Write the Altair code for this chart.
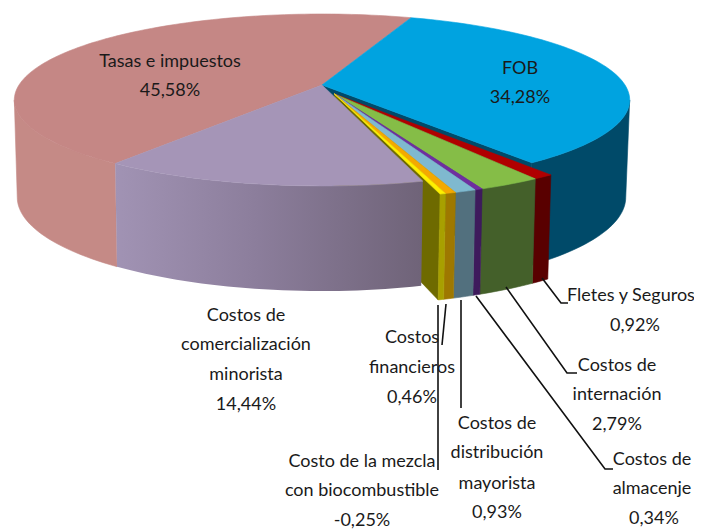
import math
import altair as alt
import pandas as pd

# --- chart values ---------------------------------------------------------
slices = ["FOB", "Fletes y Seguros", "Costos de internación", "Costos de almacenje",
          "Costos de distribución mayorista", "Costos financieros",
          "Costo de la mezcla con biocombustible",
          "Costos de comercialización minorista", "Tasas e impuestos"]
values = [34.28, 0.92, 2.79, 0.34, 0.93, 0.46, -0.25, 14.44, 45.58]
top_colors = ["#00A3E0", "#B00000", "#85BD47", "#6F2F9F", "#7FB9CF", "#F4A900", "#FFF000",
              "#A595B7", "#C58785"]
side_colors = ["#004A69", "#590000", "#44602A", "#3E1A5C", "#52707E", "#9E7800", "#A8A000",
               "#7D6F88", "#C58A86"]
pulled_out = [0, 1, 1, 1, 1, 1, 1, 0, 0]

# --- 3-D pie view -----------------------------------------------------------
START = 20.0
TILT = 0.174
OFFSET = (0.04, -0.105)
TOP = dict(cx=322.0, ax=303.0, py=85.0, qy=-68.56)
BASE = dict(cx=321.5, ax=299.6, py=181.0, qy=-59.4)
VISIBLE = (100.0, 260.0)


def project(X, Y, plane):
    d = 1 + TILT * Y
    return plane["cx"] + plane["ax"] * X / d, (plane["py"] + plane["qy"] * Y) / d


def rim(a0, a1, pull, plane):
    n = max(2, int(abs(a1 - a0) / 1.5) + 2)
    pts = []
    for k in range(n):
        a = math.radians(a0 + (a1 - a0) * k / (n - 1))
        X = math.sin(a) + (OFFSET[0] if pull else 0)
        Y = math.cos(a) + (OFFSET[1] if pull else 0)
        pts.append(project(X, Y, plane))
    return pts


def centre(pull, plane):
    return project(OFFSET[0] if pull else 0, OFFSET[1] if pull else 0, plane)


total = sum(abs(v) for v in values)
angles = []
a = START
for v in values:
    b = a + abs(v) / total * 360
    angles.append((a, b))
    a = b

DOM_X = [8, 694]
DOM_Y = [532, 8]
X = alt.X("x:Q", scale=alt.Scale(domain=DOM_X, nice=False, zero=False), axis=None)
Y = alt.Y("y:Q", scale=alt.Scale(domain=DOM_Y, nice=False, zero=False), axis=None)


def poly(points, fill):
    df = pd.DataFrame({"x": [p[0] for p in points], "y": [p[1] for p in points],
                       "i": range(len(points))})
    stroke = fill if isinstance(fill, str) else "#8A7C98"
    sw = 0.6 if isinstance(fill, str) else 0
    return alt.Chart(df).mark_line(interpolate="linear-closed", fill=fill, stroke=stroke,
                                   strokeWidth=sw, clip=False).encode(
        x=X, y=Y, order="i:Q")


def wedge_top(i):
    a0, b0 = angles[i]
    p = pulled_out[i]
    return poly([centre(p, TOP)] + rim(a0, b0, p, TOP), top_colors[i])


def outer_wall(i, fill=None):
    a0, b0 = max(angles[i][0], VISIBLE[0]), min(angles[i][1], VISIBLE[1])
    p = pulled_out[i]
    return poly(rim(a0, b0, p, TOP) + rim(b0, a0, p, BASE), fill or side_colors[i])


def radial_wall(angle, pull, fill):
    t, b = rim(angle, angle, pull, TOP)[0], rim(angle, angle, pull, BASE)[0]
    return poly([centre(pull, TOP), t, b, centre(pull, BASE)], fill)


lilac_fill = alt.LinearGradient(gradient="linear", x1=0, y1=0, x2=1, y2=0, stops=[
    alt.GradientStop(color="#A193B4", offset=0),
    alt.GradientStop(color="#8C7E9C", offset=0.45),
    alt.GradientStop(color="#6F6378", offset=1)])

layers = [outer_wall(0), outer_wall(8),
          radial_wall(angles[0][1], 0, side_colors[0]),
          radial_wall(angles[6][1], 1, "#6E6A00"),
          outer_wall(7, lilac_fill),
          wedge_top(8), wedge_top(0), wedge_top(7)]
for i in range(1, 7):
    layers += [outer_wall(i), wedge_top(i)]

# --- leader lines and labels (layout only) ----------------------------------
leaders = [
    [(542, 278), (561, 303), (568, 303)],
    [(506, 287), (567, 373), (577, 373)],
    [(476, 296), (605, 469), (613, 469)],
    [(461, 300), (461, 408)],
    [(446, 304), (442, 345)],
    [(438, 305), (438, 470)],
]
for n, path in enumerate(leaders):
    df = pd.DataFrame({"x": [p[0] for p in path], "y": [p[1] for p in path], "i": range(len(path))})
    layers.append(alt.Chart(df).mark_line(color="#111111", strokeWidth=1.6, clip=False).encode(
        x=X, y=Y, order="i:Q"))

label_lines = [
    ("Tasas e impuestos", 170, 62), ("45,58%", 170, 91),
    ("FOB", 520, 69), ("34,28%", 520, 98),
    ("Costos de", 246, 316), ("comercialización", 246, 345), ("minorista", 246, 375), ("14,44%", 246, 405),
    ("Fletes y Seguros", 631, 296), ("0,92%", 635, 326),
    ("Costos de", 617, 366), ("internación", 617, 395), ("2,79%", 617, 425),
    ("Costos de", 652, 460), ("almacenje", 652, 489), ("0,34%", 654, 519),
    ("Costos de", 497, 424), ("distribución", 497, 453), ("mayorista", 497, 484), ("0,93%", 497, 513),
    ("Costos", 412, 338), ("financieros", 412, 368), ("0,46%", 412, 398),
    ("Costo de la mezcla", 362, 462), ("con biocombustible", 362, 491), ("-0,25%", 362, 521),
]
text_df = pd.DataFrame(label_lines, columns=["t", "x", "y"])
layers.append(alt.Chart(text_df).mark_text(font="Lato", fontSize=18, color="#1A1A1A",
                                            align="center", baseline="middle", clip=False).encode(
    x=X, y=Y, text="t:N"))

chart = alt.layer(*layers).properties(width=686, height=524, padding=0,
                                      autosize=alt.AutoSizeParams(type="none")).configure_view(stroke=None)
chart.save("out.html", embed_options={"renderer": "svg", "actions": False})
